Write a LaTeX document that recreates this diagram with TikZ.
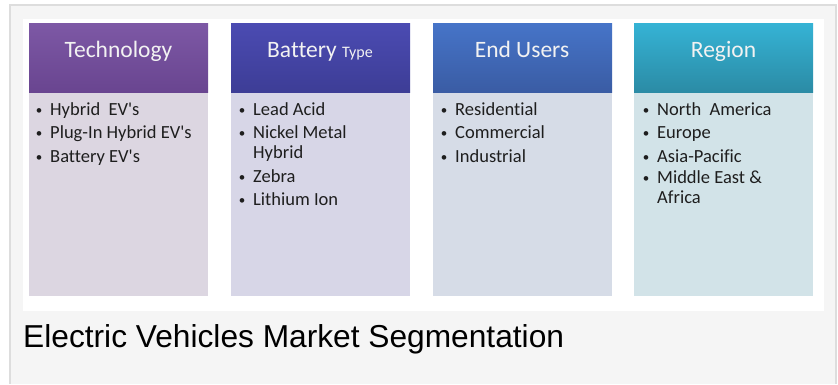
\documentclass[tikz,border=0pt]{standalone}
\usepackage{fontspec}
\setmainfont{Carlito}[Ligatures={NoCommon}]
\newfontfamily\captionfont{Liberation Sans}
\usetikzlibrary{positioning}

% colours of the four segments
\definecolor{framebg}{HTML}{F5F5F5}
\definecolor{frameline}{HTML}{DDDDDD}
\definecolor{techtop}{HTML}{7D58A5}
\definecolor{techbot}{HTML}{694590}
\definecolor{techbody}{HTML}{DCD6E1}
\definecolor{battop}{HTML}{4B4BB2}
\definecolor{batbot}{HTML}{3D3D96}
\definecolor{batbody}{HTML}{D7D6E7}
\definecolor{usertop}{HTML}{4674C8}
\definecolor{userbot}{HTML}{3A5CA4}
\definecolor{userbody}{HTML}{D6DCE7}
\definecolor{regtop}{HTML}{35B3D5}
\definecolor{regbot}{HTML}{2B8BA5}
\definecolor{regbody}{HTML}{D2E3E8}
\definecolor{itemtext}{HTML}{1E1E1E}

\newcommand{\blt}{\llap{\makebox[6pt]{\fontsize{13}{13}\selectfont\raisebox{0.6pt}{\textbullet}}\hspace{8pt}}}

\tikzset{
  head/.style={anchor=north west, inner sep=0pt, minimum width=179pt, minimum height=69pt},
  body/.style={inner sep=0pt, minimum width=179pt, minimum height=203pt},
  headtext/.style={anchor=base, inner sep=0pt, text=white!95!black, font=\fontsize{23.5}{28}\selectfont},
  item/.style={anchor=base west, inner sep=0pt, text=itemtext, font=\fontsize{18.5}{20}\selectfont}
}

\begin{document}
\begin{tikzpicture}[x=1pt,y=-1pt]
    \useasboundingbox (0,0) rectangle (838,384);

    % Frame and white panel
    \fill[white] (0,0) rectangle (838,384);
    \fill[framebg] (10,5) rectangle (836,384);
    \draw[frameline, line width=1.5pt] (10,384) -- (10,5) -- (836,5) -- (836,384);
    \fill[white] (23,19) rectangle (824,311);

    % Headers
    \node[head, top color=techtop, bottom color=techbot] (tech) at (29,23) {};
    \node[head, top color=battop, bottom color=batbot] (bat) at (231,23) {};
    \node[head, top color=usertop, bottom color=userbot] (user) at (433,23) {};
    \node[head, top color=regtop, bottom color=regbot] (reg) at (634,23) {};

    % Bodies
    \node[body, fill=techbody, below=0pt of tech] (techbox) {};
    \node[body, fill=batbody, below=0pt of bat] (batbox) {};
    \node[body, fill=userbody, below=0pt of user] (userbox) {};
    \node[body, fill=regbody, below=0pt of reg] (regbox) {};

    % Header labels
    \node[headtext] (techlabel) at (118.5,57) {Technology};
    \node[headtext] (batlabel) at (320,57) {Battery {\fontsize{16}{19}\selectfont Type}};
    \node[headtext] (userlabel) at (522,57) {End Users};
    \node[headtext] (reglabel) at (723.5,57) {Region};

    % Technology
    \node[item] (tech1) at (50,115) {\blt Hybrid\ \ EV\textquotesingle s};
    \node[item] (tech2) at (50,138.5) {\blt Plug-In Hybrid EV\textquotesingle s};
    \node[item] (tech3) at (50,162) {\blt Battery EV\textquotesingle s};

    % Battery type
    \node[item] (bat1) at (253,115) {\blt Lead Acid};
    \node[item] (bat2) at (253,138) {\blt Nickel Metal};
    \node[item] (bat2b) at (253,158) {Hybrid};
    \node[item] (bat3) at (253,182) {\blt Zebra};
    \node[item] (bat4) at (253,205) {\blt Lithium Ion};

    % End users
    \node[item] (user1) at (455,115) {\blt Residential};
    \node[item] (user2) at (455,138.5) {\blt Commercial};
    \node[item] (user3) at (455,162) {\blt Industrial};

    % Region
    \node[item] (reg1) at (657,115) {\blt North\ \ America};
    \node[item] (reg2) at (657,138.5) {\blt Europe};
    \node[item] (reg3) at (657,162) {\blt Asia-Pacific};
    \node[item] (reg4) at (657,183.5) {\blt Middle East \&};
    \node[item] (reg4b) at (657,203.5) {Africa};

    % Caption
    \node[anchor=base west, inner sep=0pt, font=\captionfont\fontsize{31.7}{36}\selectfont] (caption) at (23,347) {Electric Vehicles Market Segmentation};
\end{tikzpicture}
\end{document}
